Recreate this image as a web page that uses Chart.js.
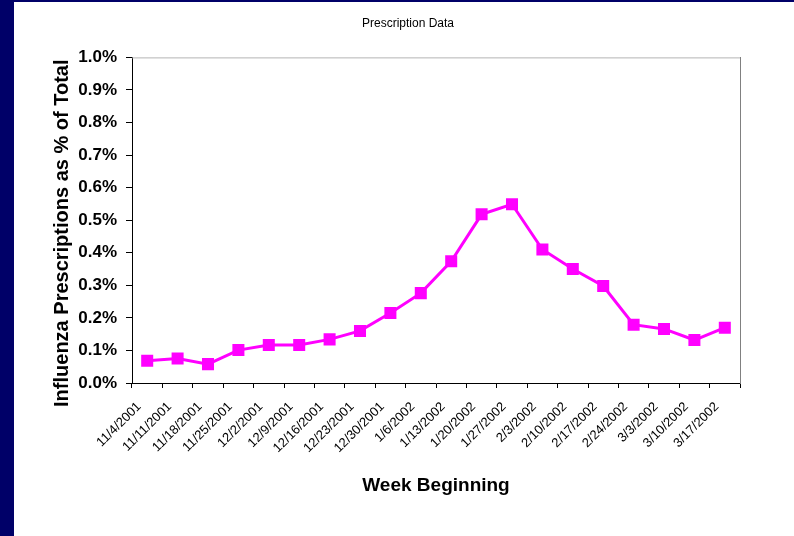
<!DOCTYPE html>
<html>
<head>
<meta charset="utf-8">
<title>Prescription Data</title>
<script src="https://cdn.jsdelivr.net/npm/chart.js@4.4.1/dist/chart.umd.min.js"></script>
<style>
    html, body {
        margin: 0;
        padding: 0;
        width: 794px;
        height: 536px;
        background: #000068;
        overflow: hidden;
    }
    #wrap {
        position: absolute;
        left: 14px;
        top: 2px;
        width: 780px;
        height: 534px;
        background: #ffffff;
    }
</style>
</head>
<body>
<div id="wrap"><canvas id="rxChart" width="780" height="534"></canvas></div>
<script>
// Chart data
const weeks = ['11/4/2001', '11/11/2001', '11/18/2001', '11/25/2001', '12/2/2001', '12/9/2001',
    '12/16/2001', '12/23/2001', '12/30/2001', '1/6/2002', '1/13/2002', '1/20/2002', '1/27/2002',
    '2/3/2002', '2/10/2002', '2/17/2002', '2/24/2002', '3/3/2002', '3/10/2002', '3/17/2002'];
const fluPercent = [0.068, 0.075, 0.058, 0.101, 0.117, 0.117, 0.134, 0.160, 0.215, 0.276,
    0.374, 0.518, 0.549, 0.410, 0.350, 0.298, 0.179, 0.166, 0.132, 0.170];
const yTicks = [0, 0.1, 0.2, 0.3, 0.4, 0.5, 0.6, 0.7, 0.8, 0.9, 1.0];
const yAxisTitle = 'Influenza Prescriptions as % of Total';

const FONT = "'Liberation Sans', Arial, sans-serif";

// plot frame: grey top edge (right edge comes from y2 border)
const plotFrame = {
    id: 'plotFrame',
    afterDraw(chart) {
        const { ctx, chartArea } = chart;
        ctx.save();
        ctx.strokeStyle = '#b4b4b4';
        ctx.lineWidth = 1;
        ctx.beginPath();
        ctx.moveTo(chartArea.left, chartArea.top + 0.5);
        ctx.lineTo(chartArea.right, chartArea.top + 0.5);
        ctx.stroke();
        ctx.restore();
    }
};

// y title sits a bit lower than the plot middle, like the original slide
const yTitle = {
    id: 'yTitle',
    afterDraw(chart, args, opts) {
        const { ctx, chartArea } = chart;
        ctx.save();
        ctx.translate(chartArea.left - 70, (chartArea.top + chartArea.bottom) / 2 + 13);
        ctx.rotate(-Math.PI / 2);
        ctx.font = 'bold 20px ' + FONT;
        ctx.fillStyle = '#000000';
        ctx.textAlign = 'center';
        ctx.textBaseline = 'middle';
        ctx.fillText(opts.text, 0, 0);
        ctx.restore();
    }
};

new Chart(document.getElementById('rxChart'), {
    type: 'line',
    data: {
        labels: weeks,
        datasets: [{
            label: 'Influenza Prescriptions',
            data: fluPercent,
            borderColor: '#ff00ff',
            backgroundColor: '#ff00ff',
            borderWidth: 3,
            tension: 0,
            fill: false,
            pointStyle: 'rect',
            pointRadius: 8.5,
            pointBorderWidth: 0,
            pointBackgroundColor: '#ff00ff'
        }]
    },
    options: {
        responsive: false,
        animation: false,
        devicePixelRatio: 1,
        layout: {
            padding: { left: 8, right: 0, top: 0, bottom: 0 }
        },
        plugins: {
            legend: { display: false },
            tooltip: { enabled: false },
            title: {
                display: true,
                text: 'Prescription Data',
                color: '#000000',
                font: { family: FONT, size: 12, weight: 'normal', lineHeight: 1.2 },
                padding: { top: 14, bottom: 27 }
            },
            yTitle: { text: yAxisTitle }
        },
        scales: {
            x: {
                type: 'category',
                offset: true,
                afterFit: function (scale) { scale.height = 153; },
                grid: {
                    offset: true,
                    drawOnChartArea: false,
                    drawTicks: true,
                    tickLength: 5,
                    color: '#000000'
                },
                border: { display: true, color: '#000000', width: 1 },
                ticks: {
                    autoSkip: false,
                    maxRotation: 45,
                    minRotation: 45,
                    padding: 11,
                    labelOffset: -8,
                    color: '#000000',
                    font: { family: FONT, size: 13 }
                },
                title: {
                    display: true,
                    text: 'Week Beginning',
                    color: '#000000',
                    font: { family: FONT, size: 19, weight: 'bold', lineHeight: 1.2 },
                    padding: { top: 0, bottom: 39 }
                }
            },
            y: {
                min: 0,
                max: 1.0,
                afterFit: function (scale) { scale.width = 110; },
                afterBuildTicks: function (scale) {
                    scale.ticks = yTicks.map(v => ({ value: v }));
                },
                grid: {
                    drawOnChartArea: false,
                    drawTicks: true,
                    tickLength: 6,
                    color: '#000000'
                },
                border: { display: true, color: '#000000', width: 1 },
                ticks: {
                    padding: 9,
                    color: '#000000',
                    font: { family: FONT, size: 17, weight: 'bold' },
                    callback: function (value) {
                        return value.toFixed(1) + '%';
                    }
                }
            },
            y2: {
                position: 'right',
                min: 0,
                max: 1.0,
                afterFit: function (scale) { scale.width = 54; },
                grid: { display: false, drawOnChartArea: false, drawTicks: false },
                border: { display: true, color: '#808080', width: 1 },
                ticks: { display: false }
            }
        }
    },
    plugins: [plotFrame, yTitle]
});
</script>
</body>
</html>
